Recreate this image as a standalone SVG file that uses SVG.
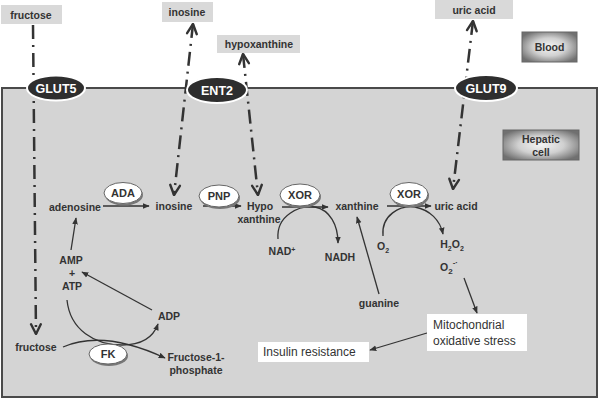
<svg xmlns="http://www.w3.org/2000/svg" width="600" height="400" viewBox="0 0 600 400">
<style>
text{font-family:"Liberation Sans",Arial,sans-serif;fill:#333;font-weight:bold;font-size:10.5px;text-anchor:middle}
.box{fill:#d9d9d9}
.tr ellipse{fill:#2e2e2e;stroke:#fff;stroke-width:2}
.tr text{fill:#fff;font-size:12.5px}
.enz ellipse{fill:#fff;stroke:#666;stroke-width:1}
.enz .sh{fill:#777;stroke:none}
.enz text{font-size:11px}
.dd{fill:none;stroke:#333;stroke-width:2.5;stroke-dasharray:14 6 2 6}
.ln{fill:none;stroke:#333;stroke-width:1.3}
.wb{fill:#fff}
.plain{font-weight:normal;font-size:12px;text-anchor:start}
.ah{fill:none;stroke:#333;stroke-width:2.2;stroke-linecap:round;stroke-linejoin:round}
</style>
<defs>
<radialGradient id="gr" cx="0.5" cy="0.5" r="0.6">
<stop offset="0" stop-color="#f4f4f4"/>
<stop offset="0.5" stop-color="#d0d0d0"/>
<stop offset="1" stop-color="#707070"/>
</radialGradient>
<marker id="v" viewBox="0 0 12 12" refX="11" refY="6" markerWidth="13" markerHeight="13" markerUnits="userSpaceOnUse" orient="auto-start-reverse">
<path d="M2,1.5 L11,6 L2,10.5" fill="none" stroke="#333" stroke-width="2.2" stroke-dasharray="none" stroke-linecap="round" stroke-linejoin="round"/>
</marker>
<marker id="t" viewBox="0 0 10 10" refX="9" refY="5" markerWidth="7" markerHeight="7" markerUnits="userSpaceOnUse" orient="auto">
<path d="M0,1 L10,5 L0,9 z" fill="#333"/>
</marker>
</defs>
<rect width="600" height="400" fill="#fff"/>
<rect id="cell" x="2" y="88" width="595" height="309" fill="#d4d4d4" stroke="#4a4a4a" stroke-width="2"/>

<g id="blood"><rect x="522" y="32" width="55" height="30" fill="url(#gr)" stroke="#666" stroke-width="1"/><text x="549.5" y="51">Blood</text></g>
<g id="hepatic"><rect x="503" y="130" width="76" height="30" fill="url(#gr)" stroke="#666" stroke-width="1"/><text x="541" y="143">Hepatic</text><text x="541" y="156">cell</text></g>

<g id="connectors">
<path class="dd" d="M33,25 L36,334" marker-end="url(#v)"/>
<path class="dd" d="M193,24 L174,195" marker-start="url(#v)" marker-end="url(#v)"/>
<path class="dd" d="M243,54 L258,195" marker-start="url(#v)" marker-end="url(#v)"/>
<path class="dd" d="M473,21 L453,189" marker-start="url(#v)" marker-end="url(#v)"/>
<path class="ln" d="M103,206 L149,206" marker-end="url(#t)"/>
<path class="ln" d="M203,206 L241,206" marker-end="url(#t)"/>
<path class="ln" d="M282,207 L328,207" marker-end="url(#t)"/>
<path class="ln" d="M387,206 L431,206" marker-end="url(#t)"/>
<path class="ln" d="M278,239 C276,215 300,205 315,207 C330,210 338,225 338,243" marker-end="url(#t)"/>
<path class="ln" d="M383,236 C381,215 400,205 415,207 C430,210 440,220 443,234" marker-end="url(#t)"/>
<path class="ln" d="M379,294 L357,217" marker-end="url(#t)"/>
<path class="ln" d="M464,278 L477,313" marker-end="url(#t)"/>
<path class="ln" d="M427,333 L370,350" marker-end="url(#t)"/>
<path class="ln" d="M71,250 L76,218" marker-end="url(#t)"/>
<path class="ln" d="M152,310 L82,272" marker-end="url(#t)"/>
<path class="ln" d="M67,300 C70,330 95,345 122,345 C140,345 153,338 158,324" marker-end="url(#t)"/>
<path class="ln" d="M63,347 C88,336 122,338 165,358" marker-end="url(#t)"/>
</g>

<g id="top-fructose"><rect class="box" x="1" y="5" width="61" height="19"/><text x="31" y="18.5">fructose</text></g>
<g id="top-inosine"><rect class="box" x="162" y="2" width="51" height="20"/><text x="187" y="16">inosine</text></g>
<g id="top-hypoxanthine"><rect class="box" x="217" y="35" width="83" height="18"/><text x="259" y="48">hypoxanthine</text></g>
<g id="top-uricacid"><rect class="box" x="435" y="0" width="78" height="19"/><text x="474" y="13.5">uric acid</text></g>

<g id="GLUT5" class="tr"><ellipse cx="56" cy="88" rx="29" ry="12.5"/><text x="56" y="92.5">GLUT5</text></g>
<g id="ENT2" class="tr"><ellipse cx="217" cy="90" rx="30" ry="13"/><text x="217" y="94.5">ENT2</text></g>
<g id="GLUT9" class="tr"><ellipse cx="486" cy="88" rx="31" ry="13"/><text x="486" y="92.5">GLUT9</text></g>

<g id="ADA" class="enz"><ellipse class="sh" cx="124" cy="195" rx="19" ry="10.5"/><ellipse cx="123" cy="193" rx="19" ry="10.5"/><text x="123" y="197">ADA</text></g>
<g id="PNP" class="enz"><ellipse class="sh" cx="220" cy="198" rx="20" ry="11"/><ellipse cx="219" cy="196" rx="20" ry="11"/><text x="219" y="200">PNP</text></g>
<g id="XOR1" class="enz"><ellipse class="sh" cx="301" cy="197" rx="20" ry="11"/><ellipse cx="300" cy="195" rx="20" ry="11"/><text x="300" y="199">XOR</text></g>
<g id="XOR2" class="enz"><ellipse class="sh" cx="410" cy="196" rx="19" ry="11.5"/><ellipse cx="409" cy="194" rx="19" ry="11.5"/><text x="409" y="198">XOR</text></g>
<g id="FK" class="enz"><ellipse class="sh" cx="109" cy="356" rx="19" ry="10"/><ellipse cx="108" cy="354" rx="19" ry="10"/><text x="108" y="358">FK</text></g>

<g id="adenosine"><text x="75" y="211">adenosine</text></g>
<g id="inosine"><text x="174" y="210">inosine</text></g>
<g id="hypoxanthine"><text x="260" y="210">Hypo</text><text x="259" y="223">xanthine</text></g>
<g id="xanthine"><text x="357" y="210">xanthine</text></g>
<g id="uricacid"><text x="456" y="210">uric acid</text></g>
<g id="NAD"><text x="282" y="255">NAD<tspan font-size="7" dy="-3">+</tspan></text></g>
<g id="NADH"><text x="340" y="261">NADH</text></g>
<g id="O2"><text x="383" y="250">O<tspan font-size="7" dy="3">2</tspan></text></g>
<g id="H2O2"><text x="452" y="248">H<tspan font-size="7" dy="3">2</tspan><tspan dy="-3">O</tspan><tspan font-size="7" dy="3">2</tspan></text></g>
<g id="superoxide"><text x="449" y="271" font-size="12">O<tspan font-size="8" dy="3">2</tspan><tspan font-size="8" dy="-9">-·</tspan></text></g>
<g id="guanine"><text x="379" y="307">guanine</text></g>
<g id="AMP"><text x="71" y="264">AMP</text><text x="72" y="277" font-size="13">+</text><text x="72" y="290">ATP</text></g>
<g id="ADP"><text x="169" y="320">ADP</text></g>
<g id="fructose"><text x="36" y="351">fructose</text></g>
<g id="F1P"><text x="196" y="361">Fructose-1-</text><text x="196" y="374">phosphate</text></g>
<g id="mito"><rect class="wb" x="427" y="314" width="100" height="37"/><text class="plain" x="433" y="329">Mitochondrial</text><text class="plain" x="433" y="345">oxidative stress</text></g>
<g id="insulin"><rect class="wb" x="258" y="342" width="111" height="20"/><text class="plain" x="263" y="356">Insulin resistance</text></g>
</svg>
